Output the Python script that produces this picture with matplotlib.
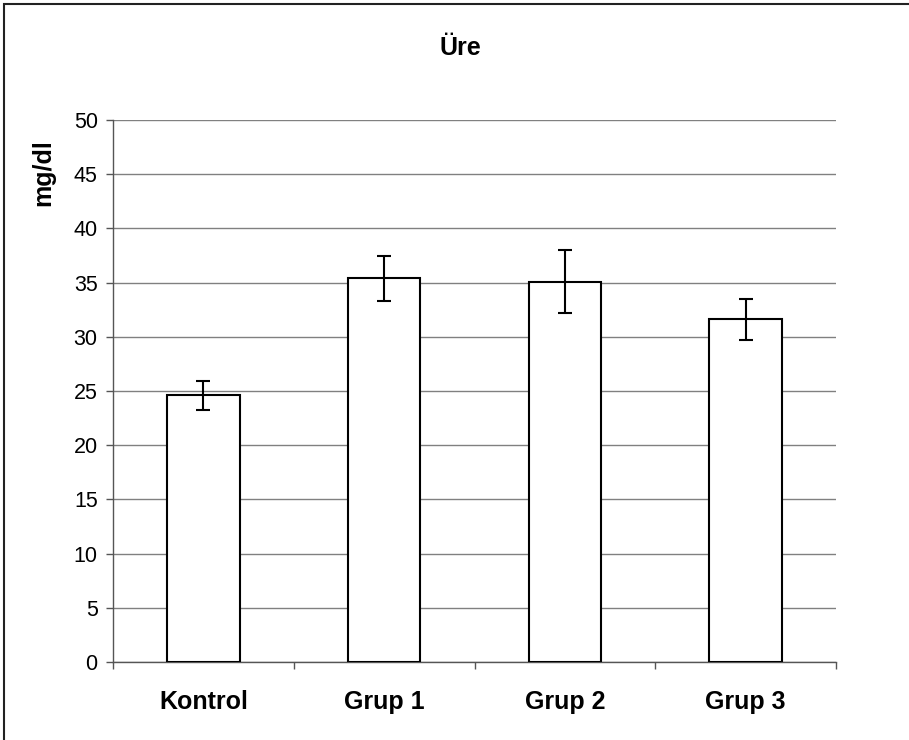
import numpy as np
import matplotlib
matplotlib.use("Agg")
import matplotlib.pyplot as plt
from matplotlib.patches import Rectangle

plt.rcParams['font.family'] = ['Liberation Sans', 'DejaVu Sans']

# data
categories = ['Kontrol', 'Grup 1', 'Grup 2', 'Grup 3']
means = [24.6, 35.4, 35.1, 31.6]
errors = [1.35, 2.1, 2.95, 1.85]
y_ticks = [0, 5, 10, 15, 20, 25, 30, 35, 40, 45, 50]

W, H = 909, 740
fig = plt.figure(figsize=(W / 100, H / 100), dpi=100)

# axes box in pixels: x 113..836, y 120..662
ax = fig.add_axes([113 / W, 1 - 662 / H, (836 - 113) / W, (662 - 120) / H])

x = np.arange(len(categories))
ax.bar(x, means, width=0.40, color='white', edgecolor='black', linewidth=1.5, zorder=3)
ax.errorbar(x, means, yerr=errors, fmt='none', ecolor='black', elinewidth=1.5,
            capsize=5, capthick=1.5, zorder=4)

ax.set_xlim(-0.5, len(categories) - 0.5)
ax.set_ylim(0, 50)
ax.set_yticks(y_ticks)
ax.yaxis.grid(True, color='#808080', linewidth=1, zorder=0)
ax.set_axisbelow(True)

# tick marks between categories, labels at the centres
ax.set_xticks(np.arange(len(categories) + 1) - 0.5)
ax.set_xticklabels([])
ax.set_xticks(x, minor=True)
ax.set_xticklabels(categories, minor=True, fontsize=18, fontweight='bold')
ax.tick_params(axis='x', which='major', direction='out', length=5, color='#555555', width=1)
ax.tick_params(axis='x', which='minor', length=0, pad=20)
ax.tick_params(axis='y', direction='out', length=5, color='#555555', width=1,
               labelsize=15.5, pad=6)

for s in ['top', 'right']:
    ax.spines[s].set_visible(False)
ax.spines['left'].set_color('#555555')
ax.spines['bottom'].set_color('#555555')
ax.spines['left'].set_linewidth(1)
ax.spines['bottom'].set_linewidth(1)

fig.text(460 / W, 1 - 48 / H, 'Üre', ha='center', va='center', fontsize=18, fontweight='bold')
fig.text(43 / W, 1 - 173 / H, 'mg/dl', ha='center', va='center', rotation=90,
         fontsize=18, fontweight='bold')

# outer chart border (right and bottom edges fall outside the image)
fig.patches.append(Rectangle((4 / W, -0.05), 1.2, 1 - 4 / H + 0.05, transform=fig.transFigure,
                             fill=False, edgecolor='#222222', linewidth=1.5))

fig.savefig('out.png', dpi=100)
